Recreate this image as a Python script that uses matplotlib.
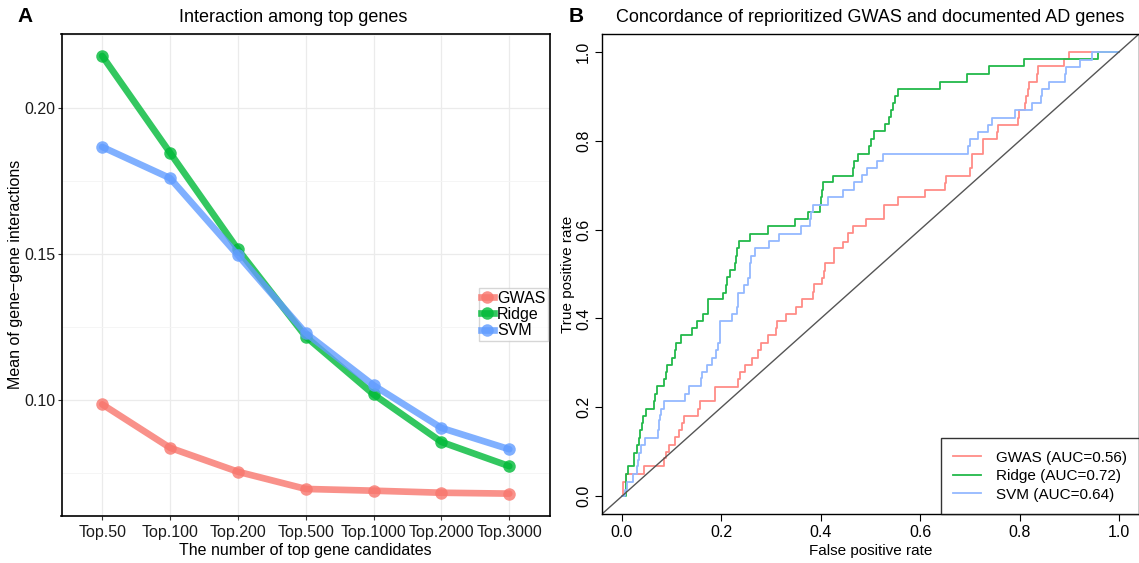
import numpy as np
import matplotlib
matplotlib.use('Agg')
import matplotlib.pyplot as plt
from matplotlib.lines import Line2D

plt.rcParams['font.family'] = ['Liberation Sans', 'DejaVu Sans']

# panel A data
categories = ['Top.50', 'Top.100', 'Top.200', 'Top.500', 'Top.1000', 'Top.2000', 'Top.3000']
gwas_mean = [0.0985, 0.0836, 0.0754, 0.0695, 0.0689, 0.0682, 0.0679]
ridge_mean = [0.2179, 0.1847, 0.1516, 0.1217, 0.1019, 0.0856, 0.0773]
svm_mean = [0.1867, 0.1760, 0.1496, 0.1229, 0.1050, 0.0904, 0.0831]

# panel B data: ROC step curves (fpr where a run starts, tpr level)
gwas_fpr = [0, 0.003, 0.008, 0.045, 0.084, 0.088, 0.094, 0.106, 0.114, 0.120, 0.124, 0.154,
            0.157, 0.188, 0.233, 0.237, 0.247, 0.261, 0.274, 0.279, 0.293, 0.309, 0.311,
            0.331, 0.351, 0.363, 0.385, 0.387, 0.403, 0.406, 0.409, 0.427, 0.445, 0.455,
            0.464, 0.490, 0.527, 0.556, 0.609, 0.649, 0.651, 0.701, 0.705, 0.727, 0.754,
            0.756, 0.797, 0.798, 0.810, 0.812, 0.816, 0.819, 0.834, 0.836, 0.890, 0.900, 1.0]
gwas_tpr = [0, 0.032, 0.051, 0.068, 0.085, 0.100, 0.115, 0.134, 0.149, 0.165, 0.180, 0.197,
            0.214, 0.246, 0.263, 0.280, 0.295, 0.312, 0.329, 0.344, 0.363, 0.378, 0.394,
            0.410, 0.426, 0.443, 0.460, 0.477, 0.492, 0.507, 0.524, 0.558, 0.573, 0.592,
            0.608, 0.624, 0.655, 0.673, 0.689, 0.705, 0.721, 0.738, 0.770, 0.803, 0.820,
            0.836, 0.852, 0.868, 0.884, 0.901, 0.917, 0.933, 0.950, 0.967, 0.983, 1.0, 1.0]

ridge_fpr = [0, 0.008, 0.012, 0.025, 0.030, 0.034, 0.037, 0.040, 0.043, 0.048, 0.064, 0.067,
             0.070, 0.084, 0.088, 0.091, 0.100, 0.107, 0.108, 0.119, 0.140, 0.152, 0.164,
             0.174, 0.204, 0.210, 0.212, 0.217, 0.227, 0.230, 0.232, 0.236, 0.258, 0.294,
             0.349, 0.374, 0.398, 0.400, 0.402, 0.405, 0.425, 0.464, 0.466, 0.474, 0.496,
             0.500, 0.507, 0.530, 0.537, 0.541, 0.545, 0.550, 0.556, 0.639, 0.695, 0.739,
             0.808, 0.958, 1.0]
ridge_tpr = [0, 0.051, 0.068, 0.098, 0.115, 0.132, 0.149, 0.165, 0.180, 0.197, 0.214, 0.231,
             0.248, 0.263, 0.280, 0.295, 0.312, 0.329, 0.345, 0.363, 0.378, 0.394, 0.410,
             0.443, 0.458, 0.475, 0.493, 0.509, 0.524, 0.541, 0.558, 0.574, 0.589, 0.607,
             0.623, 0.639, 0.656, 0.673, 0.690, 0.706, 0.721, 0.738, 0.755, 0.770, 0.787,
             0.803, 0.821, 0.838, 0.854, 0.870, 0.884, 0.900, 0.916, 0.933, 0.950, 0.967,
             0.983, 1.0, 1.0]

svm_fpr = [0, 0.007, 0.010, 0.023, 0.030, 0.032, 0.035, 0.039, 0.047, 0.072, 0.075, 0.077,
           0.079, 0.084, 0.127, 0.134, 0.160, 0.161, 0.172, 0.182, 0.190, 0.194, 0.197,
           0.221, 0.232, 0.233, 0.234, 0.246, 0.254, 0.257, 0.258, 0.259, 0.268, 0.296,
           0.316, 0.361, 0.379, 0.380, 0.385, 0.415, 0.445, 0.467, 0.482, 0.492, 0.514,
           0.525, 0.697, 0.701, 0.717, 0.736, 0.744, 0.791, 0.824, 0.842, 0.844, 0.859,
           0.892, 0.894, 0.922, 0.946, 1.0]
svm_tpr = [0, 0.014, 0.032, 0.051, 0.068, 0.082, 0.098, 0.115, 0.132, 0.150, 0.171, 0.182,
           0.197, 0.214, 0.231, 0.248, 0.265, 0.280, 0.295, 0.312, 0.329, 0.344, 0.394,
           0.410, 0.426, 0.443, 0.458, 0.475, 0.492, 0.509, 0.525, 0.541, 0.558, 0.574,
           0.590, 0.607, 0.623, 0.640, 0.655, 0.673, 0.689, 0.706, 0.723, 0.738, 0.755,
           0.770, 0.787, 0.803, 0.820, 0.836, 0.852, 0.868, 0.884, 0.900, 0.916, 0.933,
           0.950, 0.965, 0.982, 1.0, 1.0]

auc_labels = ['GWAS (AUC=0.56)', 'Ridge (AUC=0.72)', 'SVM (AUC=0.64)']

gg_colors = ['#F8766D', '#00BA38', '#619CFF']
roc_colors = ['#FF8C87', '#22B94A', '#94B9FF']

W, H = 1139, 563
fig = plt.figure(figsize=(W / 100, H / 100), dpi=100)

# ---------------- panel A ----------------
axA = fig.add_axes([61.5 / W, 1 - 515.5 / H, (550 - 61.5) / W, (515.5 - 34) / H])
x = np.arange(len(categories))
for vals, col, name in zip([gwas_mean, ridge_mean, svm_mean], gg_colors, ['GWAS', 'Ridge', 'SVM']):
    axA.plot(x, vals, color=col, lw=4.8, alpha=0.8, solid_capstyle='round',
             marker='o', ms=9, mec='none', label=name, zorder=3)

axA.set_xlim(-0.6, 6.6)
axA.set_ylim(0.0604, 0.2254)
axA.set_xticks(x)
axA.set_xticklabels(categories)
axA.set_yticks([0.10, 0.15, 0.20])
axA.set_yticklabels(['0.10', '0.15', '0.20'])
axA.set_yticks([0.075, 0.125, 0.175, 0.225], minor=True)
axA.grid(True, which='major', color='#EBEBEB', lw=0.9, zorder=0)
axA.grid(True, which='minor', axis='y', color='#F4F4F4', lw=0.6, zorder=0)
axA.tick_params(which='major', direction='out', length=3, width=0.8, color='#333333',
                labelsize=11.5, labelcolor='#1A1A1A', pad=1.5)
axA.tick_params(axis='x', pad=4)
axA.tick_params(which='minor', length=0)
for s in axA.spines.values():
    s.set_color('black')
    s.set_linewidth(1.2)
axA.set_axisbelow(True)
axA.set_xlabel('The number of top gene candidates', fontsize=11.5)
axA.set_ylabel('Mean of gene\u2212gene interactions', fontsize=11.5)
axA.xaxis.set_label_coords((305.7 - 61.5) / (550 - 61.5), -(550 - 515.5) / (515.5 - 34))
axA.yaxis.set_label_coords(-(61.5 - 16) / (550 - 61.5), 0.5)
axA.xaxis.label.set_va('center')
axA.yaxis.label.set_va('center')

hA = [Line2D([0], [0], color=c, lw=4.8, alpha=0.8, marker='o', ms=9, mec='none')
      for c in gg_colors]
legA = fig.legend(hA, ['GWAS', 'Ridge', 'SVM'], loc='upper left',
                  bbox_to_anchor=(478.7 / W, 1 - 288.4 / H), fontsize=11.5,
                  frameon=True, fancybox=False, handlelength=0.8, handletextpad=0.2,
                  labelspacing=0.08, borderpad=0.15, borderaxespad=0)
legA.get_frame().set_edgecolor('#CCCCCC')
legA.get_frame().set_linewidth(1.0)

fig.text(293 / W, 1 - 18 / H, 'Interaction among top genes', ha='center', va='center', fontsize=13)
fig.text(25 / W, 1 - 17 / H, 'A', ha='center', va='center', fontsize=15, fontweight='bold')

# ---------------- panel B ----------------
axB = fig.add_axes([602 / W, 1 - 514 / H, (1139 - 602) / W, (514 - 34) / H])
for fx, ty, col in zip([gwas_fpr, ridge_fpr, svm_fpr], [gwas_tpr, ridge_tpr, svm_tpr], roc_colors):
    axB.plot(fx, ty, color=col, lw=1.3, drawstyle='steps-post')
axB.axline((0, 0), (1, 1), color='#555555', lw=1.0)

axB.set_xlim(-0.04, 1.04)
axB.set_ylim(-0.04, 1.04)
ticks = [0.0, 0.2, 0.4, 0.6, 0.8, 1.0]
axB.set_xticks(ticks)
axB.set_xticklabels(['%.1f' % t for t in ticks])
axB.set_yticks(ticks)
axB.set_yticklabels(['%.1f' % t for t in ticks], rotation=90, va='center')
axB.tick_params(direction='out', length=5, width=0.8, labelsize=11.5, pad=3)
for s in axB.spines.values():
    s.set_color('black')
    s.set_linewidth(1.0)
axB.set_xlabel('False positive rate', fontsize=11)
axB.set_ylabel('True positive rate', fontsize=11)
axB.xaxis.set_label_coords(0.5, -(551 - 514) / (514 - 34))
axB.yaxis.set_label_coords(-(602 - 568) / (1139 - 602), 0.5)
axB.xaxis.label.set_va('center')
axB.yaxis.label.set_va('center')

hB = [Line2D([0], [0], color=c, lw=1.3) for c in roc_colors]
legB = axB.legend(hB, auc_labels, loc='lower right', fontsize=11, frameon=True,
                  fancybox=False, handlelength=1.8, handletextpad=1.0, labelspacing=0.3,
                  borderpad=0.8, borderaxespad=0)
legB.get_frame().set_edgecolor('black')
legB.get_frame().set_linewidth(1.0)

fig.text(870 / W, 1 - 18 / H, 'Concordance of reprioritized GWAS and documented AD genes',
         ha='center', va='center', fontsize=13)
fig.text(576 / W, 1 - 16 / H, 'B', ha='center', va='center', fontsize=15, fontweight='bold')

fig.savefig('out.png', dpi=100)
